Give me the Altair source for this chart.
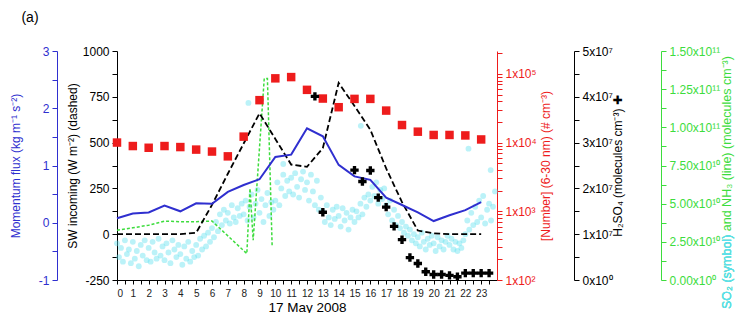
import altair as alt
import pandas as pd

# ---------------- data ----------------
hours = list(range(24))
# [Number] (6-30 nm), # cm-3 (red squares, log axis)
number_conc = [1.0e4, 8.9e3, 8.4e3, 8.9e3, 8.6e3, 7.9e3, 7.4e3, 6.3e3,
               1.22e4, 4.14e4, 8.6e4, 8.97e4, 5.85e4, 4.37e4, 3.27e4, 4.32e4,
               4.32e4, 2.92e4, 1.8e4, 1.44e4, 1.29e4, 1.29e4, 1.27e4, 1.11e4]
# SW incoming, W m-2 (black dashed)
sw_incoming = [0, 0, 0, 0, 0, 8, 160, 330, 495, 660, 520, 380,
               368, 470, 826, 700, 570, 359, 175, 20, 5, 0, 0, 0]
# Momentum flux, kg m-1 s-2 (blue line)
momentum_flux = [0.08, 0.16, 0.18, 0.30, 0.20, 0.34, 0.33, 0.54, 0.66, 0.76, 1.15, 1.19,
                 1.65, 1.51, 1.01, 0.81, 0.75, 0.44, 0.31, 0.18, 0.03, 0.13, 0.22, 0.36]
# H2SO4, units of 1e7 molecules cm-3 (black crosses)
h2so4_hours = [12.5, 13, 15, 15.5, 16, 16.5, 17, 17.5, 18, 18.5,
               19, 19.5, 20, 20.5, 21, 21.5, 22, 22.5, 23, 23.5]
h2so4_e7 = [4.01, 1.48, 2.40, 2.15, 2.39, 1.80, 1.59, 1.17, 0.88, 0.49,
            0.36, 0.18, 0.12, 0.12, 0.10, 0.07, 0.15, 0.15, 0.15, 0.15]
# NH3, units of 1e10 molecules cm-3 (green dashed line)
nh3_hours = [0, 1, 2, 3, 4, 5, 6, 8.2, 8.4, 8.6, 9.3, 9.5, 9.8]
nh3_e10 = [3.26, 3.42, 3.59, 3.86, 3.82, 3.82, 3.86, 1.73, 6.0, 2.6, 13.2, 13.2, 2.17]
# SO2, units of 1e10 molecules cm-3 (cyan symbols), one value every 1/8 hour
so2_e10 = [
    2.4, 1.5, 2.1, 1.2, 2.6, 1.7, 2.0, 1.1,
    2.5, 1.4, 1.9, 0.9, 2.3, 1.6, 2.6, 1.3,
    2.1, 1.2, 2.5, 1.8, 1.4, 2.7, 1.6, 2.2,
    1.3, 2.4, 1.8, 1.1, 2.6, 2.0, 1.5, 2.3,
    1.7, 1.0, 2.2, 1.4, 2.5, 1.2, 1.9, 1.5,
    2.3, 1.6, 2.7, 2.0, 2.9, 2.2, 3.1, 2.5,
    3.4, 2.8, 3.8, 3.2, 4.3, 3.6, 4.6, 3.9,
    4.4, 3.7, 4.9, 4.1, 3.8, 4.7, 4.2, 5.0,
    4.3, 5.2, 3.9, 4.8, 5.6, 4.1, 5.0, 5.9,
    4.4, 5.3, 3.8, 4.9, 5.7, 4.2, 5.1, 4.6,
    5.2, 6.4, 4.9, 6.0, 6.9, 5.5, 6.5, 5.8,
    6.7, 5.6, 7.0, 6.1, 5.4, 6.6, 7.1, 5.9,
    6.4, 5.2, 6.9, 5.8, 4.9, 6.5, 4.6, 5.4,
    4.5, 3.8, 4.9, 4.1, 3.6, 4.6, 4.0, 4.8,
    4.2, 3.5, 4.7, 3.9, 4.4, 3.3, 4.1, 4.6,
    3.8, 4.5, 4.1, 5.0, 4.3, 5.4, 4.8, 5.6,
    5.2, 6.1, 5.5, 6.4, 5.0, 5.9, 5.3, 6.0,
    4.9, 4.3, 5.2, 3.9, 4.6, 3.6, 4.2, 3.4,
    3.8, 3.1, 3.5, 2.9, 3.3, 2.6, 3.0, 2.4,
    2.8, 2.2, 3.1, 2.5, 2.0, 2.7, 2.3, 2.9,
    2.4, 1.9, 2.8, 2.2, 2.6, 2.0, 2.5, 2.9,
    2.3, 2.7, 2.0, 2.5, 1.9, 2.4, 2.1, 2.6,
    3.0, 3.9, 3.3, 4.4, 3.6, 4.8, 3.8, 5.2,
    4.1, 5.5, 3.7, 4.6, 5.0, 3.9, 4.8, 5.8,
]
so2_hours = [i / 8 for i in range(len(so2_e10))]
so2_extra_hours = [8.3, 10.5, 15.4, 22.2, 23.6]
so2_extra_e10 = [11.6, 7.6, 10.1, 8.6, 7.2]

# ---------------- styling ----------------
FONT = "Liberation Sans"
BLUE = "#2f2fcf"
RED = "#ee1c1c"
GREEN = "#3ddc3d"
CYAN = "#5cdfee"
BLACK = "#000000"
W, H = 380, 229

x_enc = alt.X(
    "hour:Q",
    scale=alt.Scale(domain=[0, 24], nice=False, zero=False),
    axis=alt.Axis(
        values=[i * 0.5 for i in range(48)],
        labelExpr="datum.value % 1 == 0 ? '' + datum.value : ''",
        title="17 May 2008", titleFontSize=13.5, titlePadding=2,
        labelFontSize=10, tickSize=4, labelPadding=4,
        domainColor=BLACK, tickColor=BLACK, labelColor="#222222",
    ),
)

green_scale = alt.Scale(domain=[0, 15], nice=False, zero=False)

so2_df = pd.DataFrame({"hour": so2_hours + so2_extra_hours, "v": so2_e10 + so2_extra_e10})
so2 = alt.Chart(so2_df).mark_circle(size=34, color=CYAN, opacity=0.42).encode(
    x=x_enc, y=alt.Y("v:Q", scale=green_scale, axis=None)
)

nh3_df = pd.DataFrame({"hour": nh3_hours, "v": nh3_e10})
nh3 = alt.Chart(nh3_df).mark_line(color=GREEN, strokeDash=[3, 2], strokeWidth=1.5).encode(
    x=x_enc,
    y=alt.Y("v:Q", scale=green_scale, axis=alt.Axis(
        orient="right", offset=164,
        values=[i * 1.25 for i in range(13)],
        labelExpr="datum.value % 2.5 == 0 ? (datum.value == 0 ? '0.00x10⁰' : (datum.value < 10 ? format(datum.value, '.2f') + 'x10¹⁰' : format(datum.value / 10, '.2f') + 'x10¹¹')) : ''",
        title=None, domainColor=GREEN, tickColor=GREEN, labelColor=GREEN,
        tickSize=5, labelPadding=3, labelFontSize=12,
    )),
)

sw_df = pd.DataFrame({"hour": hours, "v": sw_incoming})
sw = alt.Chart(sw_df).mark_line(color=BLACK, strokeDash=[6, 3], strokeWidth=1.8).encode(
    x=x_enc,
    y=alt.Y("v:Q", scale=alt.Scale(domain=[-250, 1000], nice=False, zero=False), axis=alt.Axis(
        orient="left", offset=0,
        values=[-250 + 125 * i for i in range(11)],
        labelExpr="datum.value % 250 == 0 ? '' + datum.value : ''",
        title="SW incoming (W m⁻²) (dashed)", titleColor=BLACK, titlePadding=3,
        domainColor=BLACK, tickColor=BLACK, labelColor=BLACK,
        tickSize=5, labelPadding=3, labelFontSize=12,
    )),
)

mom_df = pd.DataFrame({"hour": hours, "v": momentum_flux})
mom = alt.Chart(mom_df).mark_line(color=BLUE, strokeWidth=2).encode(
    x=x_enc,
    y=alt.Y("v:Q", scale=alt.Scale(domain=[-1, 3], nice=False, zero=False), axis=alt.Axis(
        orient="left", offset=60,
        values=[-1 + 0.5 * i for i in range(9)],
        labelExpr="datum.value % 1 == 0 ? '' + datum.value : ''",
        title="Momentum flux (kg m⁻¹ s⁻²)", titleColor=BLUE, titlePadding=16,
        domainColor=BLUE, tickColor=BLUE, labelColor=BLUE,
        tickSize=5, labelPadding=3, labelFontSize=12,
    )),
)

red_vals = [m * 10 ** e for e in (2, 3, 4) for m in range(1, 10)] + [100000, 200000]
num_df = pd.DataFrame({"hour": hours, "v": number_conc})
num = alt.Chart(num_df).mark_square(size=72, color=RED, opacity=1).encode(
    x=x_enc,
    y=alt.Y("v:Q", scale=alt.Scale(type="log", domain=[100, 215000], nice=False), axis=alt.Axis(
        orient="right", offset=0, values=red_vals,
        labelExpr="datum.value == 100 ? '1x10²' : datum.value == 1000 ? '1x10³' : datum.value == 10000 ? '1x10⁴' : datum.value == 100000 ? '1x10⁵' : ''",
        title="[Number] (6-30 nm) (# cm⁻³)", titleColor=RED, titleAngle=270, titlePadding=16,
        domainColor=RED, tickColor=RED, labelColor=RED,
        tickSize=5, labelPadding=3, labelFontSize=12,
    )),
)

h2_df = pd.DataFrame({"hour": h2so4_hours, "v": h2so4_e7})
h2 = alt.Chart(h2_df).mark_point(shape="cross", filled=True, size=70, color=BLACK, opacity=1).encode(
    x=x_enc,
    y=alt.Y("v:Q", scale=alt.Scale(domain=[0, 5], nice=False, zero=False), axis=alt.Axis(
        orient="right", offset=77,
        values=[0.5 * i for i in range(11)],
        labelExpr="datum.value % 1 == 0 ? (datum.value == 0 ? '0x10⁰' : datum.value + 'x10⁷') : ''",
        title="H₂SO₄ (molecules cm⁻³) ✚", titleColor=BLACK, titleAngle=270, titlePadding=12,
        domainColor=BLACK, tickColor=BLACK, labelColor=BLACK,
        tickSize=5, labelPadding=3, labelFontSize=12,
    )),
)

one = pd.DataFrame({"a": [0]})
green_title = alt.Chart(one).mark_text(
    text="SO₂ (symbol) and NH₃ (line) (molecules cm⁻³)", angle=270, align="left",
    baseline="middle", font=FONT, fontSize=12.5, color=GREEN,
).encode(x=alt.value(610), y=alt.value(258))
cyan_title = alt.Chart(one).mark_text(
    text="SO₂ (symbol)", angle=270, align="left",
    baseline="middle", font=FONT, fontSize=12.5, color=CYAN,
).encode(x=alt.value(610), y=alt.value(258))
panel = alt.Chart(one).mark_text(
    text="(a)", align="center", baseline="middle", font=FONT, fontSize=14, color=BLACK,
).encode(x=alt.value(-87), y=alt.value(-33))

chart = alt.layer(
    so2, nh3, sw, mom, num, h2, green_title, cyan_title, cyan_title, panel
).resolve_scale(y="independent").properties(
    width=W, height=H,
    padding={"left": 109, "top": 43, "right": 238, "bottom": 33},
    autosize=alt.AutoSizeParams(type="none"),
).configure_view(strokeWidth=0).configure_axis(
    grid=False, labelFont=FONT, titleFont=FONT, titleFontSize=12,
    titleFontWeight="normal", domainWidth=1, tickWidth=1,
)

chart.save("out.html", embed_options={"renderer": "svg", "actions": False})
